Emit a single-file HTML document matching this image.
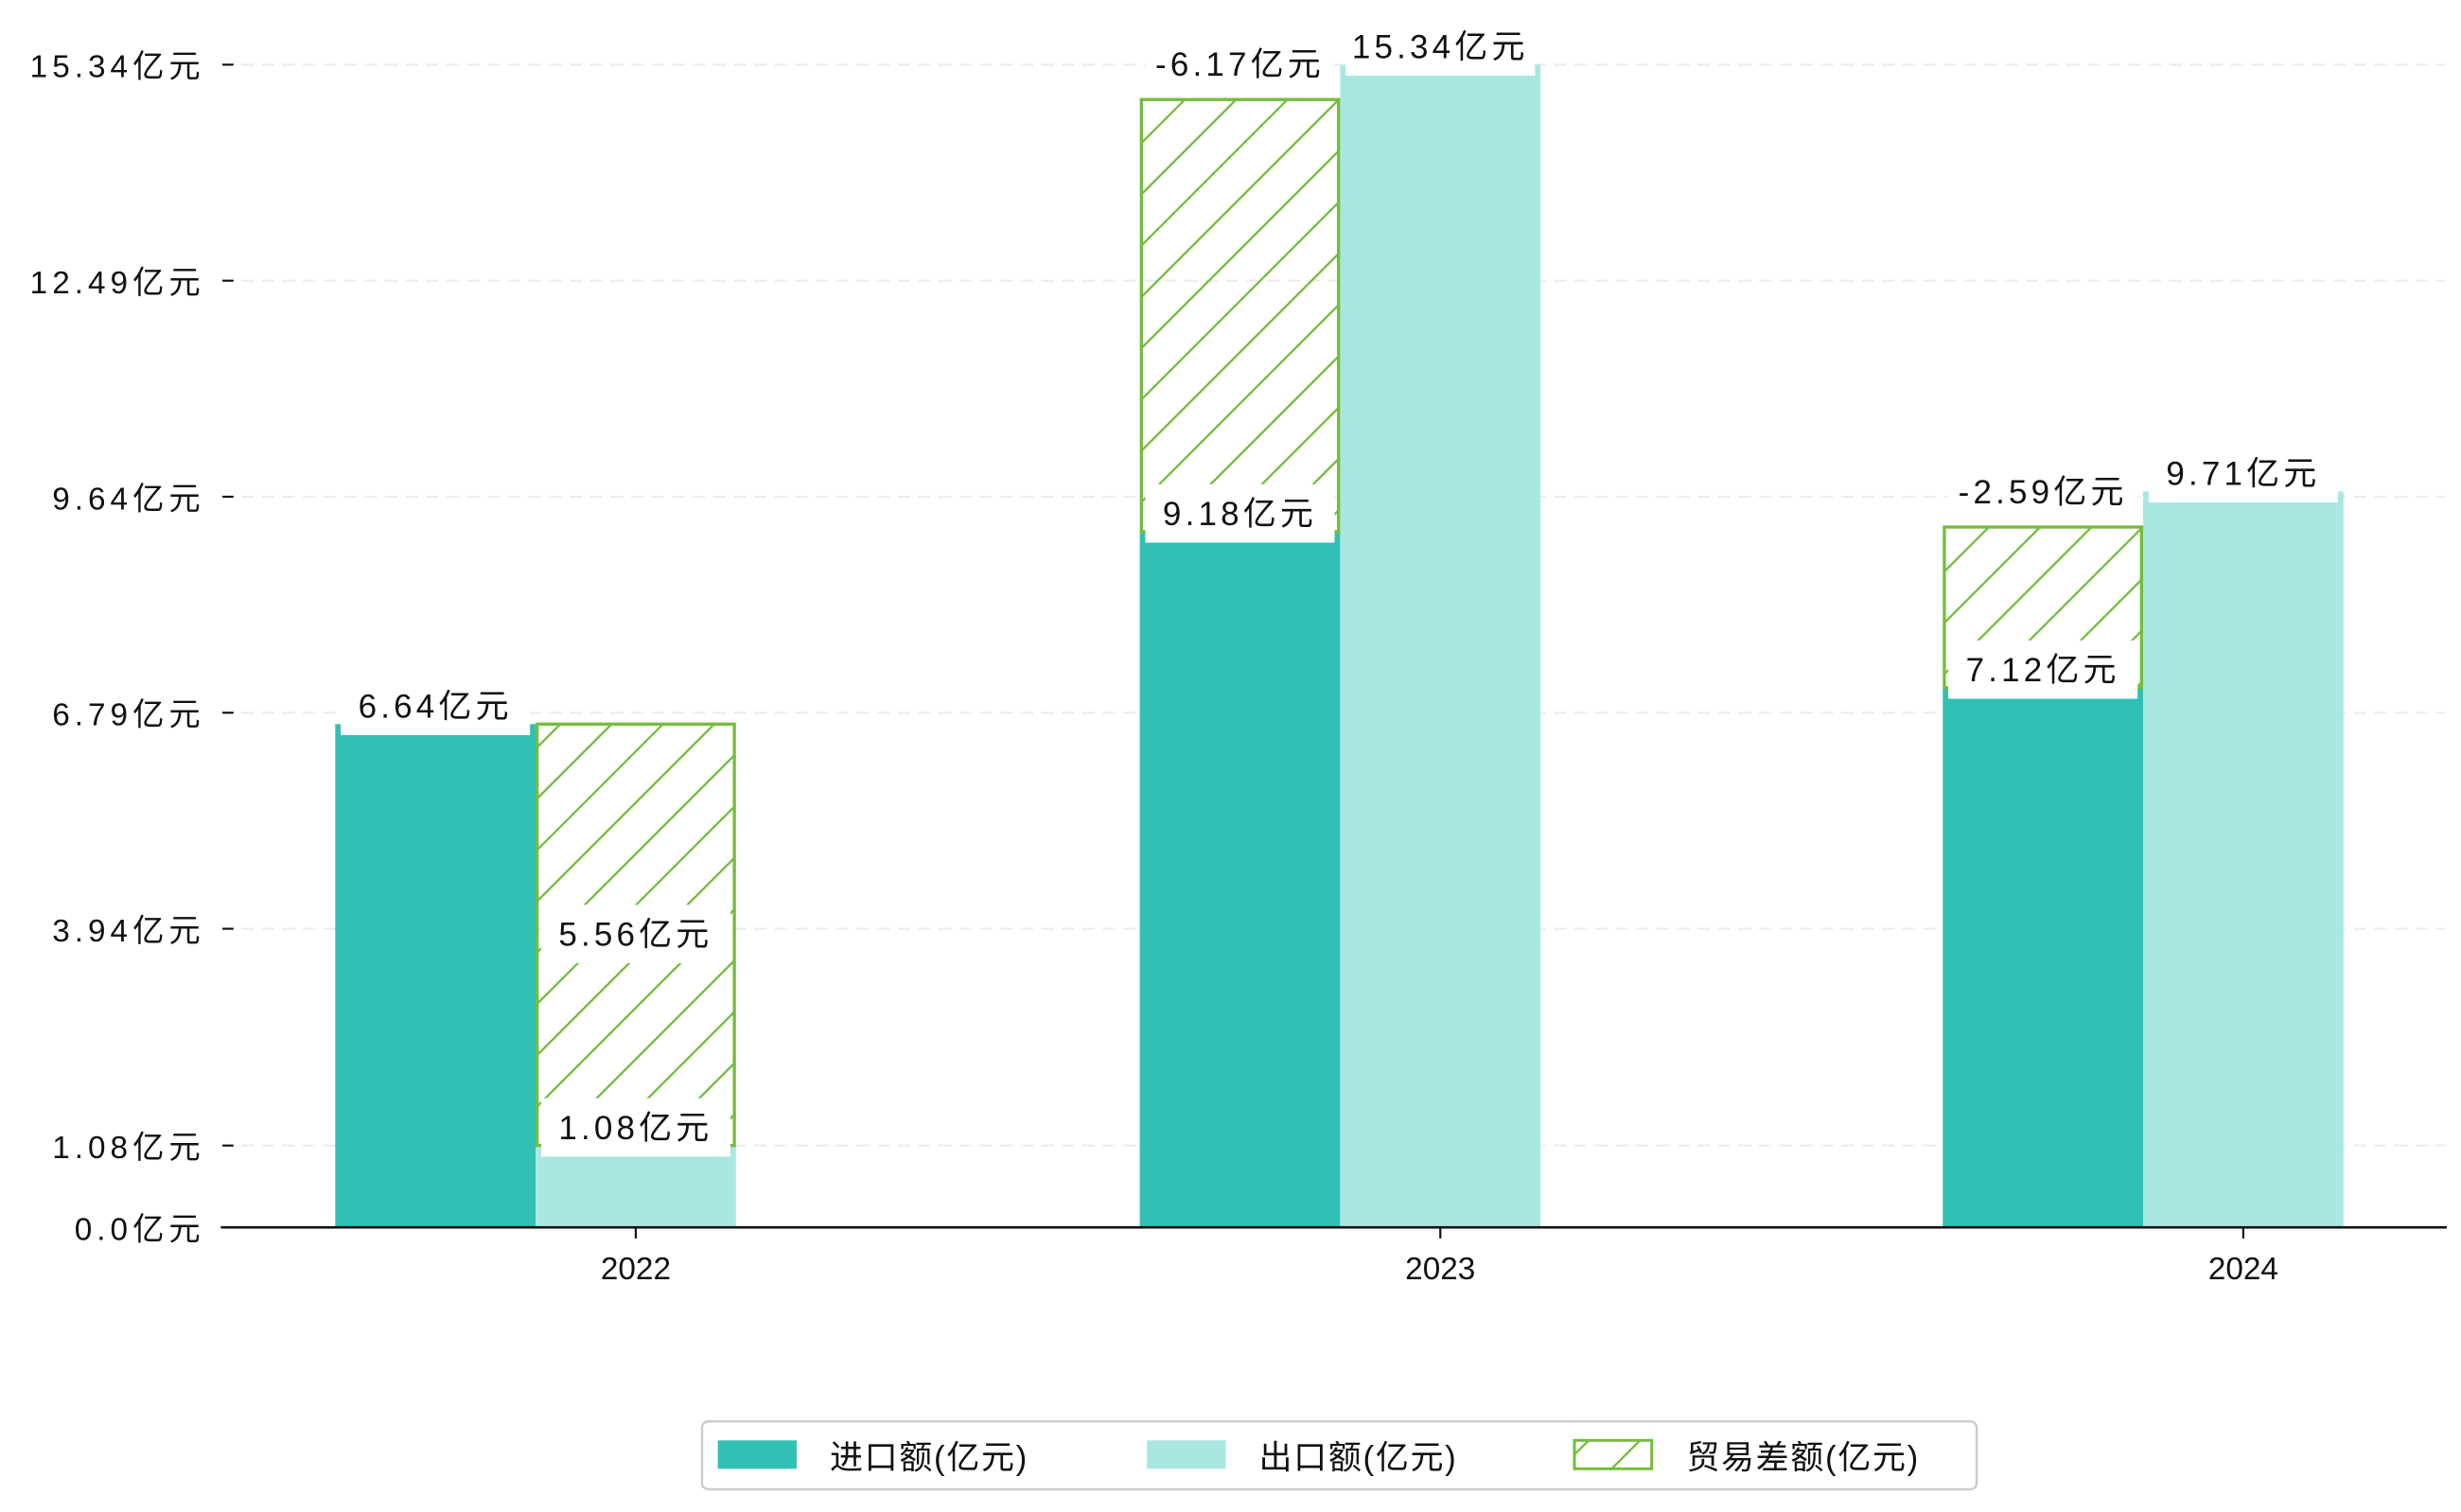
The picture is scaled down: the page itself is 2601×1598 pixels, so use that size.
<!DOCTYPE html>
<html><head><meta charset="utf-8">
<style>
html,body{margin:0;padding:0;background:#fff;}
svg{display:block;}
text{font-family:"Liberation Sans","Noto Sans CJK SC",sans-serif;fill:#111;}
</style></head>
<body>
<svg id="chart" width="2601" height="1598" viewBox="0 0 1560 958.4" preserveAspectRatio="none" xmlns="http://www.w3.org/2000/svg">
<defs>
<pattern id="hatch" patternUnits="userSpaceOnUse" width="23" height="23" patternTransform="rotate(45)">
<line x1="0" y1="0" x2="0" y2="23" stroke="#74BC3E" stroke-width="2.8"/>
</pattern>
</defs>
<g id="grid"></g>
<g id="bars"></g>
<g id="labels"></g>
<g id="axes"></g>
<g id="legend">
<rect x="445" y="901" width="808" height="43" rx="4" fill="#fff" stroke="#ccc" stroke-width="1.5"/>
<rect x="455" y="913" width="50" height="18" fill="#30C0B4"/>
<text x="526" y="931" font-size="21" letter-spacing="1">进口额(亿元)</text>
<rect x="727" y="913" width="50" height="18" fill="#A9E7E2"/>
<text x="798" y="931" font-size="21" letter-spacing="1">出口额(亿元)</text>
<rect x="998" y="913" width="49" height="18" fill="url(#hatch)" stroke="#74BC3E" stroke-width="1.8"/>
<text x="1069" y="931" font-size="21" letter-spacing="1">贸易差额(亿元)</text>
</g>
</svg>
<script>
const years = ["2022","2023","2024"];
const importVals = [6.64, 9.18, 7.12];
const exportVals = [1.08, 15.34, 9.71];
const balanceLabels = ["5.56亿元","-6.17亿元","-2.59亿元"];
const hatchLow = [1.08, 9.18, 7.12];
const hatchHigh = [6.64, 14.88, 9.24];
const hatchInExportCol = [true, false, false];
const yTicks = [0.0, 1.08, 3.94, 6.79, 9.64, 12.49, 15.34];
const yTickLabels = ["0.0亿元","1.08亿元","3.94亿元","6.79亿元","9.64亿元","12.49亿元","15.34亿元"];

const NS = "http://www.w3.org/2000/svg";
const y0 = 778, yTop = 41, yMax = 15.34;
function yScale(v){ return y0 - v*(y0-yTop)/yMax; }
const groupCenters = [403, 913, 1422];
function xScale(i){ return groupCenters[i]; }
const bw = 127;
function mk(tag, attrs, parent){
  const e = document.createElementNS(NS, tag);
  for (const k in attrs) e.setAttribute(k, attrs[k]);
  parent.appendChild(e); return e;
}
const grid = document.getElementById('grid'), bars = document.getElementById('bars'),
      labels = document.getElementById('labels'), axes = document.getElementById('axes');

yTicks.forEach((t,i)=>{
  const y = yScale(t);
  if (i>0) {
    const g = mk('line',{x1:140,x2:1550,y1:y,y2:y,stroke:'#e9eded','stroke-width':1.3,'stroke-dasharray':'8,5'},grid);
    
    
  }
  const tk = mk('line',{x1:141,x2:148,y1:y,y2:y,stroke:'#111','stroke-width':1.3},axes);
  
  
  const tx = mk('text',{x:130,y:y+8,'font-size':20,'text-anchor':'end','letter-spacing':3},axes);
  tx.textContent = yTickLabels[i];
  
  
});

function label(txt, cx, cy, name){
  const bg = mk('rect',{x:cx-60,y:cy-19,width:120,height:37,fill:'#fff'},labels);
  
  
  const t = mk('text',{x:cx,y:cy+7,'font-size':21,'text-anchor':'middle','letter-spacing':2.5},labels);
  t.textContent = txt;
  
  
}

years.forEach((yr,i)=>{
  const cx = xScale(i);
  const xi = cx - 1.5*bw, xe = cx - 0.5*bw;
  const yi = yScale(importVals[i]), ye = yScale(exportVals[i]);
  const bi = mk('rect',{x:xi,y:yi,width:bw,height:y0-yi,fill:'#30C0B4'},bars);
  
  
  const be = mk('rect',{x:xe,y:ye,width:bw,height:y0-ye,fill:'#A9E7E2'},bars);
  
  
  const hx = hatchInExportCol[i] ? xe : xi;
  const hh = yScale(hatchHigh[i]), hl = yScale(hatchLow[i]);
  const hb = mk('rect',{x:hx+1,y:hh,width:bw-2,height:hl-hh,fill:'url(#hatch)',stroke:'#74BC3E','stroke-width':2},bars);
  
  

  label(importVals[i].toFixed(2)+'亿元', xi+bw/2, yi-11, 'label-import-'+yr);
  label(exportVals[i].toFixed(2)+'亿元', xe+bw/2, ye-11, 'label-export-'+yr);
  const ly = hatchInExportCol[i] ? (hh+hl)/2 : hh-22;
  label(balanceLabels[i], hx+bw/2, ly, 'label-balance-'+yr);

  const xt = mk('line',{x1:cx,x2:cx,y1:778,y2:785,stroke:'#111','stroke-width':1.3},axes);
  
  
  const xl = mk('text',{x:cx,y:811,'font-size':20,'text-anchor':'middle'},axes);
  xl.textContent = yr;
  
  
});
const ax = mk('line',{x1:140,x2:1551,y1:778,y2:778,stroke:'#111','stroke-width':1.6},axes);


</script>
</body></html>
